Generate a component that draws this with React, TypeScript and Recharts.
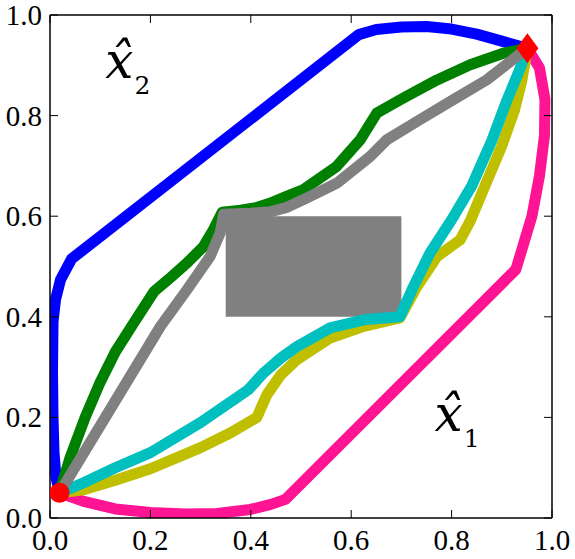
import React from 'react';
import { ComposedChart, Line, Scatter, XAxis, YAxis, ReferenceArea, ReferenceLine } from 'recharts';

const xTicks = [0, 0.2, 0.4, 0.6, 0.8, 1.0];
const yTicks = [0, 0.2, 0.4, 0.6, 0.8, 1.0];

const blueX = [0.019, 0.012, 0.008, 0.006, 0.005, 0.006, 0.011, 0.021, 0.043, 0.615, 0.65, 0.70, 0.75, 0.80, 0.85, 0.90, 0.951];
const blueY = [0.05, 0.08, 0.13, 0.20, 0.29, 0.39, 0.434, 0.474, 0.515, 0.961, 0.971, 0.976, 0.977, 0.972, 0.962, 0.948, 0.934];

const greenX = [0.019, 0.04, 0.07, 0.10, 0.13, 0.165, 0.207, 0.24, 0.273, 0.306, 0.326, 0.343, 0.38, 0.41, 0.439, 0.47, 0.505, 0.571, 0.618, 0.651, 0.704, 0.771, 0.837, 0.903, 0.951];
const greenY = [0.05, 0.12, 0.20, 0.27, 0.33, 0.385, 0.45, 0.478, 0.507, 0.540, 0.574, 0.608, 0.612, 0.617, 0.626, 0.639, 0.653, 0.699, 0.752, 0.805, 0.835, 0.871, 0.901, 0.924, 0.934];

const grayX = [0.019, 0.22, 0.273, 0.319, 0.339, 0.346, 0.40, 0.44, 0.47, 0.505, 0.572, 0.638, 0.671, 0.737, 0.804, 0.87, 0.951];
const grayY = [0.05, 0.381, 0.454, 0.52, 0.567, 0.604, 0.606, 0.609, 0.617, 0.633, 0.666, 0.719, 0.752, 0.792, 0.832, 0.871, 0.934];

const cyanX = [0.019, 0.067, 0.13, 0.2, 0.3, 0.395, 0.425, 0.46, 0.492, 0.558, 0.625, 0.697, 0.724, 0.757, 0.80, 0.84, 0.88, 0.91, 0.935, 0.951];
const cyanY = [0.05, 0.07, 0.10, 0.13, 0.19, 0.255, 0.288, 0.318, 0.341, 0.378, 0.394, 0.40, 0.46, 0.527, 0.593, 0.66, 0.75, 0.83, 0.89, 0.934];

const yellowX = [0.019, 0.067, 0.13, 0.2, 0.3, 0.359, 0.412, 0.432, 0.46, 0.492, 0.558, 0.625, 0.697, 0.731, 0.771, 0.817, 0.837, 0.86, 0.90, 0.925, 0.94, 0.951];
const yellowY = [0.05, 0.056, 0.075, 0.098, 0.14, 0.169, 0.20, 0.245, 0.285, 0.315, 0.358, 0.381, 0.398, 0.46, 0.52, 0.553, 0.59, 0.645, 0.74, 0.81, 0.87, 0.934];

const pinkX = [0.019, 0.067, 0.13, 0.2, 0.27, 0.333, 0.399, 0.44, 0.469, 0.928, 0.96, 0.975, 0.985, 0.986, 0.975, 0.951];
const pinkY = [0.05, 0.033, 0.018, 0.011, 0.008, 0.009, 0.017, 0.027, 0.037, 0.494, 0.60, 0.68, 0.76, 0.832, 0.895, 0.934];

const startPoint = [{ x: 0.019, y: 0.05 }];
const goalPoint = [{ x: 0.951, y: 0.934 }];
const obstacle = { x1: 0.35, x2: 0.7, y1: 0.4, y2: 0.6 };

const labelX2 = [{ x: 0.11, y: 0.875, sub: '2' }];
const labelX1 = [{ x: 0.766, y: 0.172, sub: '1' }];

const zip = (xs: number[], ys: number[]) => xs.map((x, i) => ({ x, y: ys[i] }));

const W = 575;
const H = 559;
const X_AXIS_H = 40;
const Y_AXIS_W = 42;
const M = { top: 15, right: 23, bottom: 1, left: 8 };
const PW = W - M.left - Y_AXIS_W - M.right;
const PH = H - M.top - M.bottom - X_AXIS_H;
const TICK_FONT = '"Liberation Serif", "DejaVu Serif", serif';
const LABEL_FONT = '"DejaVu Serif", serif';
const TICK_LEN = 8;

const XTick = (props: any) => {
  const { x, y, payload } = props;
  return (
    <g>
      <line x1={x} x2={x} y1={y} y2={y - TICK_LEN} stroke="#000" strokeWidth={1} />
      <line x1={x} x2={x} y1={y - PH} y2={y - PH + TICK_LEN} stroke="#000" strokeWidth={1} />
      <text x={x} y={y + 32} textAnchor="middle" fontFamily={TICK_FONT} fontSize={29} fill="#000">
        {Number(payload.value).toFixed(1)}
      </text>
    </g>
  );
};

const YTick = (props: any) => {
  const { x, y, payload } = props;
  return (
    <g>
      <line x1={x} x2={x + TICK_LEN} y1={y} y2={y} stroke="#000" strokeWidth={1} />
      <line x1={x + PW} x2={x + PW - TICK_LEN} y1={y} y2={y} stroke="#000" strokeWidth={1} />
      <text x={x - 8} y={y + 10} textAnchor="end" fontFamily={TICK_FONT} fontSize={29} fill="#000">
        {Number(payload.value).toFixed(1)}
      </text>
    </g>
  );
};

const HatLabel = (props: any) => {
  const { cx, cy, payload } = props;
  return (
    <text x={cx} y={cy} fontFamily={LABEL_FONT} fill="#000">
      <tspan fontStyle="italic" fontSize={50}>{'x\u0302'}</tspan>
      <tspan fontSize={25} dx={1} dy={16}>{payload.sub}</tspan>
    </text>
  );
};

const Dot = (props: any) => <circle cx={props.cx} cy={props.cy} r={10} fill="#ff0000" />;
const Diamond = (props: any) => {
  const { cx, cy } = props;
  return <path d={`M${cx},${cy - 15} L${cx + 11},${cy} L${cx},${cy + 15} L${cx - 11},${cy} Z`} fill="#ff0000" />;
};

const lineProps = {
  type: 'linear' as const,
  dataKey: 'y',
  strokeWidth: 11,
  dot: false,
  activeDot: false,
  isAnimationActive: false,
  strokeLinejoin: 'round' as const,
  strokeLinecap: 'butt' as const,
};

export default function App() {
  return (
    <div style={{ position: 'absolute', left: 0, top: 0, background: '#fff' }}>
      <ComposedChart width={W} height={H} margin={M}>
        <XAxis
          type="number"
          dataKey="x"
          domain={[0, 1]}
          ticks={xTicks}
          interval={0}
          allowDataOverflow
          height={X_AXIS_H}
          tickLine={false}
          tickSize={0}
          tickMargin={0}
          tick={<XTick />}
          axisLine={{ stroke: '#000', strokeWidth: 1.5 }}
        />
        <YAxis
          type="number"
          dataKey="y"
          domain={[0, 1]}
          ticks={yTicks}
          interval={0}
          allowDataOverflow
          width={Y_AXIS_W}
          tickLine={false}
          tickSize={0}
          tickMargin={0}
          tick={<YTick />}
          axisLine={{ stroke: '#000', strokeWidth: 1.5 }}
        />
        <ReferenceArea x1={obstacle.x1} x2={obstacle.x2} y1={obstacle.y1} y2={obstacle.y2} fill="#808080" fillOpacity={1} stroke="none" />
        <ReferenceLine y={1} stroke="#000" strokeWidth={1.5} />
        <ReferenceLine x={1} stroke="#000" strokeWidth={1.5} />
        <Line {...lineProps} data={zip(pinkX, pinkY)} stroke="#ff1493" />
        <Line {...lineProps} data={zip(blueX, blueY)} stroke="#0000ff" />
        <Line {...lineProps} data={zip(yellowX, yellowY)} stroke="#bfbf00" />
        <Line {...lineProps} data={zip(cyanX, cyanY)} stroke="#00bfbf" />
        <Line {...lineProps} data={zip(greenX, greenY)} stroke="#008000" />
        <Line {...lineProps} data={zip(grayX, grayY)} stroke="#808080" />
        <Scatter data={startPoint} shape={<Dot />} isAnimationActive={false} />
        <Scatter data={goalPoint} shape={<Diamond />} isAnimationActive={false} />
        <Scatter data={labelX2} shape={<HatLabel />} isAnimationActive={false} />
        <Scatter data={labelX1} shape={<HatLabel />} isAnimationActive={false} />
      </ComposedChart>
    </div>
  );
}
